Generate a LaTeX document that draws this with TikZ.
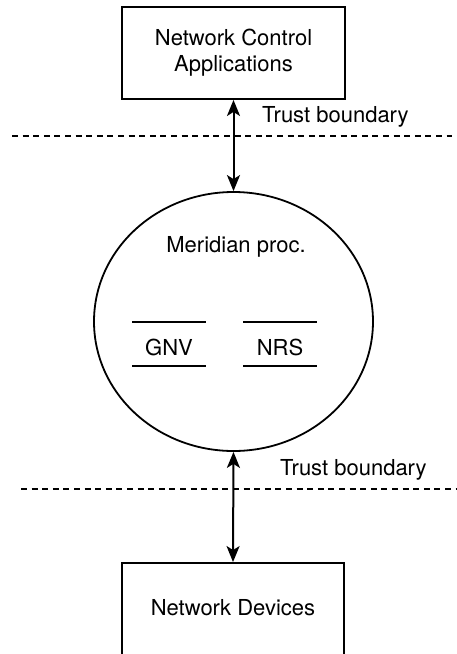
\documentclass[tikz,border=0pt]{standalone}
\usepackage{fontspec}
\setmainfont{TeX Gyre Heros}
\usetikzlibrary{shapes.geometric,arrows.meta}

\tikzset{
  x=1pt, y=-1pt,
  every node/.style={font=\fontsize{22}{26}\selectfont},
  blockbox/.style={draw, line width=1.9pt, inner sep=0pt, align=center},
  procoval/.style={draw, ellipse, line width=1.8pt, inner sep=0pt,
                   minimum width=279pt, minimum height=259pt},
  boundary/.style={line width=2pt, dash pattern=on 6pt off 4.6pt},
  link/.style={line width=2pt, >={Stealth[length=16pt,width=13pt,inset=4pt]}, <->},
  modline/.style={line width=1.9pt},
  caption/.style={anchor=west, inner sep=0pt}
}

\begin{document}
\begin{tikzpicture}
  \useasboundingbox (0,0) rectangle (457,654);
  \clip (0,0) rectangle (457,654);

  % components
  \node[blockbox, minimum width=223pt, minimum height=92pt] (apps) at (233.5,53)
    {Network Control\\Applications};
  \node[procoval] (proc) at (233.5,321.5) {};
  \node[blockbox, minimum width=222pt, minimum height=120pt] (dev) at (233,623) {};
  \node (devlabel) at (233,608) {Network Devices};

  % contents of the Meridian process
  \node (meridian) at (236,247) {Meridian proc.};
  \node (gnv) at (169,347) {GNV};
  \node (nrs) at (280,347) {NRS};
  \coordinate (gnvTL) at (132,322);
  \coordinate (gnvTR) at (206,322);
  \coordinate (gnvBL) at (132,366);
  \coordinate (gnvBR) at (206,366);
  \coordinate (nrsTL) at (243,322);
  \coordinate (nrsTR) at (317,322);
  \coordinate (nrsBL) at (243,366);
  \coordinate (nrsBR) at (317,366);
  \draw[modline] (gnvTL) -- (gnvTR);
  \draw[modline] (gnvBL) -- (gnvBR);
  \draw[modline] (nrsTL) -- (nrsTR);
  \draw[modline] (nrsBL) -- (nrsBR);

  % trust boundaries
  \coordinate (tbTopL) at (12,136);
  \coordinate (tbTopR) at (452,136);
  \coordinate (tbBotL) at (21,489);
  \coordinate (tbBotR) at (457,489);
  \draw[boundary] (tbTopL) -- (tbTopR);
  \draw[boundary] (tbBotL) -- (tbBotR);
  \node[caption] (tbTop) at (262,117) {Trust boundary};
  \node[caption] (tbBot) at (280,470) {Trust boundary};

  % connectors
  \draw[link] (apps.south) -- (proc.north);
  \draw[link] (proc.south) -- (dev.north);
\end{tikzpicture}
\end{document}
